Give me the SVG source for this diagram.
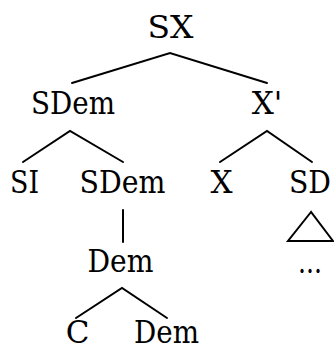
<svg xmlns="http://www.w3.org/2000/svg" width="334" height="350" viewBox="0 0 334 350">
<style>
text{font-family:"DejaVu Serif","Liberation Serif",serif;font-size:31px;fill:#000;text-anchor:middle}
.e{stroke:#000;stroke-width:2;fill:none;stroke-linecap:round;stroke-linejoin:miter}
</style>
<rect width="334" height="350" fill="#fff"/>
<g id="connectors">
<polyline class="e" points="72,83 170,53 267,83"/>
<polyline class="e" points="23,162 70,131 123,162"/>
<polyline class="e" points="220,162 267,131 312,162"/>
<line class="e" x1="123" y1="210" x2="123" y2="242"/>
<polyline class="e" points="76,318 122,288 167,318"/>
<polygon class="e" points="311,212 288,241 333,241"/>
</g>
<g id="n-SX"><text x="170.5" y="38" textLength="46" lengthAdjust="spacingAndGlyphs">SX</text></g>
<g id="n-SDem1"><text x="73" y="114" textLength="84" lengthAdjust="spacingAndGlyphs">SDem</text></g>
<g id="n-Xbar"><text x="267" y="114">X'</text></g>
<g id="n-SI"><text x="24.5" y="193" textLength="29" lengthAdjust="spacingAndGlyphs">SI</text></g>
<g id="n-SDem2"><text x="122.5" y="193" textLength="86" lengthAdjust="spacingAndGlyphs">SDem</text></g>
<g id="n-X"><text x="221.5" y="193">X</text></g>
<g id="n-SD"><text x="310" y="193" textLength="42" lengthAdjust="spacingAndGlyphs">SD</text></g>
<g id="n-Dem1"><text x="120.5" y="272" textLength="66" lengthAdjust="spacingAndGlyphs">Dem</text></g>
<g id="n-dots"><text x="310" y="273" textLength="24" lengthAdjust="spacingAndGlyphs">...</text></g>
<g id="n-C"><text x="77.5" y="343">C</text></g>
<g id="n-Dem2"><text x="166.5" y="343" textLength="65" lengthAdjust="spacingAndGlyphs">Dem</text></g>
</svg>
